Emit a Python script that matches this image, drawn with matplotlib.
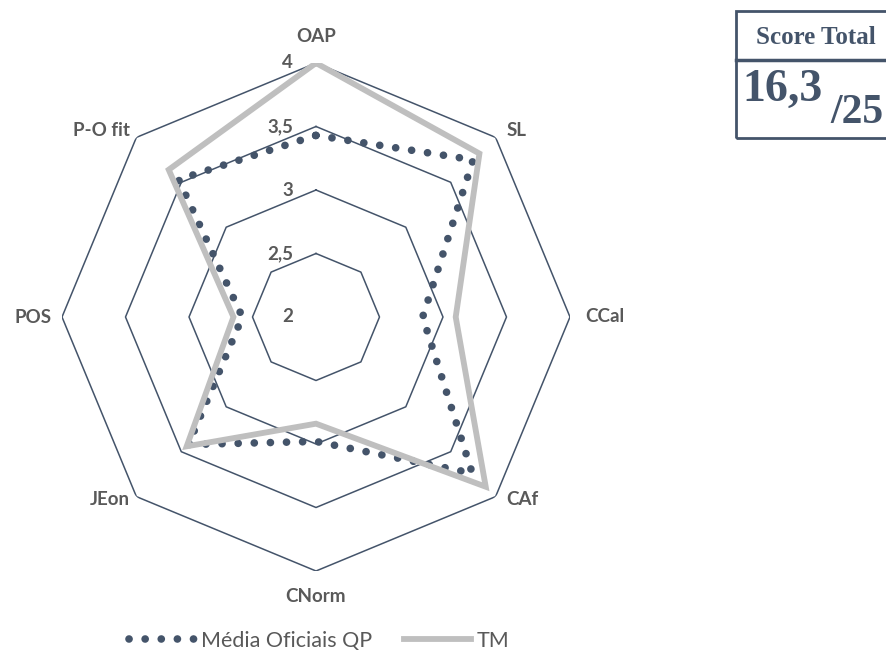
import numpy as np
import matplotlib
matplotlib.use('Agg')
import matplotlib.pyplot as plt
from matplotlib.lines import Line2D
from matplotlib.patches import Rectangle

categories = ['OAP', 'SL', 'CCal', 'CAf', 'CNorm', 'JEon', 'POS', 'P-O fit']
media_qp = [3.43, 3.75, 2.84, 3.74, 2.98, 3.42, 2.58, 3.53]
tm = [4.0, 3.82, 3.10, 3.89, 2.84, 3.44, 2.65, 3.64]
grid_levels = [2.5, 3.0, 3.5, 4.0]
tick_levels = [2.0, 2.5, 3.0, 3.5, 4.0]
tick_labels = ['2', '2,5', '3', '3,5', '4']
score = '16,3'
score_max = '/25'

NAVY = '#44546A'
GRAY_TXT = '#595959'
GRAY_LINE = '#BFBFBF'

plt.rcParams['font.family'] = ['Lato', 'DejaVu Sans']

W, H = 887, 653
PT = 72 / 100  # pixels -> points
fig = plt.figure(figsize=(W / 100, H / 100), dpi=100)

# polar axes: centre (316, 317), radius 254 px
cx, cy, rad = 316, 317, 254
ax = fig.add_axes([(cx - rad) / W, (H - cy - rad) / H, 2 * rad / W, 2 * rad / H],
                  projection='polar')
ax.set_theta_zero_location('N')
ax.set_theta_direction(-1)
ax.set_ylim(2, 4)
ax.axis('off')

n = len(categories)
theta = np.linspace(0, 2 * np.pi, n, endpoint=False)
theta_c = np.append(theta, theta[0])

# octagonal grid
for lev in grid_levels:
    ax.plot(theta_c, [lev] * (n + 1), color=NAVY, lw=1.1, zorder=1)

# series
dot_ls = (0, (0.01, 2.1))
ax.plot(theta_c, media_qp + media_qp[:1], color=NAVY, lw=5.5,
        linestyle=dot_ls, dash_capstyle='round', zorder=3)
ax.plot(theta_c, tm + tm[:1], color=GRAY_LINE, lw=4.2, zorder=4,
        solid_joinstyle='miter')

# radial tick labels left of top axis
for lev, lab in zip(tick_levels, tick_labels):
    ax.annotate(lab, xy=(0, lev), xytext=(-23 * PT, 0), textcoords='offset points',
                ha='right', va='center', fontsize=13.5, fontweight='bold',
                color=GRAY_TXT, annotation_clip=False)

# category labels, placed just outside each outer vertex (offsets in px)
label_pos = [(0, 26, 'center'), (11, 7, 'left'), (15, 0, 'left'), (11, -3, 'left'),
             (0, -26, 'center'), (-7, -3, 'right'), (-10, 0, 'right'),
             (-6, 7, 'right')]
for t, cat, (dx, dy, ha) in zip(theta, categories, label_pos):
    ax.annotate(cat, xy=(t, 4), xytext=(dx * PT, dy * PT), textcoords='offset points',
                ha=ha, va='center', fontsize=13.5, fontweight='bold',
                color=GRAY_TXT, annotation_clip=False)

# legend
handles = [
    Line2D([], [], color=NAVY, lw=5.5, linestyle=dot_ls, dash_capstyle='round'),
    Line2D([], [], color=GRAY_LINE, lw=4.2),
]
fig.legend(handles, ['Média Oficiais QP', 'TM'], loc='center',
           bbox_to_anchor=(319 / W, 1 - 641 / H), ncol=2, frameon=False,
           handlelength=3.1, columnspacing=1.5, handletextpad=0.25,
           prop={'size': 15.5}, labelcolor=GRAY_TXT)

# score box (top right, cut by the figure edge)
box_l, box_t, box_m, box_b = 736, 11, 60, 138
fig.patches.append(Rectangle((box_l / W, 1 - box_b / H), (W + 20 - box_l) / W,
                             (box_b - box_t) / H, transform=fig.transFigure,
                             fill=False, edgecolor=NAVY, lw=2, clip_on=False))
fig.add_artist(Line2D([box_l / W, 1.02], [1 - box_m / H] * 2,
                      transform=fig.transFigure, color=NAVY, lw=2.5))
serif = ['Liberation Serif', 'DejaVu Serif']
fig.text(816 / W, 1 - 37 / H, 'Score Total', ha='center', va='center',
         fontsize=18, fontweight='bold', color=NAVY, family=serif)
fig.text(742 / W, 1 - 90 / H, score, ha='left', va='center',
         fontsize=33, fontweight='bold', color=NAVY, family=serif)
fig.text(830 / W, 1 - 113 / H, score_max, ha='left', va='center',
         fontsize=30, fontweight='bold', color=NAVY, family=serif)

fig.savefig('out.png', dpi=100)
